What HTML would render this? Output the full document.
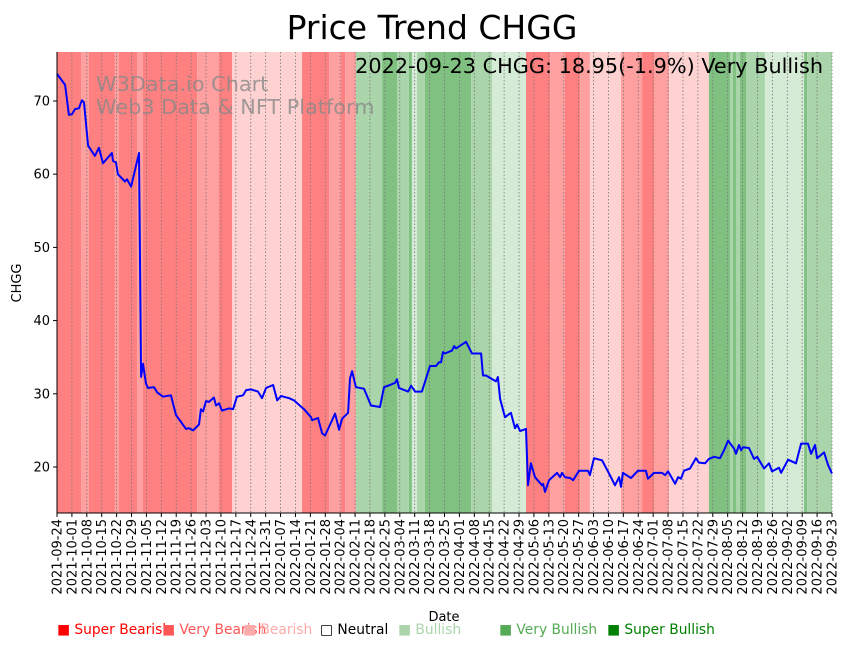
<!DOCTYPE html>
<html><head><meta charset="utf-8"><style>
body{margin:0;background:#fff;}
svg{display:block;font-family:"DejaVu Sans","Liberation Sans",sans-serif;}
</style></head><body>
<svg id="chart" width="848" height="646" viewBox="0 0 848 646" xmlns="http://www.w3.org/2000/svg">
<text x="432" y="39" font-size="33" text-anchor="middle">Price Trend CHGG</text>
<g id="bands"></g>
<g id="grid"></g>
<text x="96" y="91" font-size="20.8" fill="#888" fill-opacity="0.8">W3Data.io Chart</text>
<text x="96" y="114" font-size="20.8" fill="#888" fill-opacity="0.8">Web3 Data &amp; NFT Platform</text>
<path id="line" fill="none" stroke="#0000ff" stroke-width="2" stroke-linejoin="round"></path>
<text x="823" y="73" font-size="20.8" text-anchor="end">2022-09-23 CHGG: 18.95(-1.9%) Very Bullish</text>
<line x1="57" y1="52" x2="57" y2="513" stroke="#000"/>
<line x1="57" y1="513" x2="832" y2="513" stroke="#000"/>
<g id="yticks"></g>
<g id="xticks"></g>
<text x="444" y="621" font-size="13" text-anchor="middle">Date</text>
<text transform="translate(21,283) rotate(-90)" font-size="13" text-anchor="middle">CHGG</text>
<g id="legend" font-size="13.8"></g>
</svg>
<script>
const days=[0,3.8,5.6,7,8.5,10.3,11.7,12.7,14.6,17.8,19.7,21.6,25.8,26.3,27.7,28.6,31.9,32.9,34.8,38.5,39.5,40.4,41.8,42.7,45.6,47,49.8,53.5,55.9,60.6,62,63.9,66.7,67.6,68.6,70,71.4,73.7,74.7,76.1,77.5,80.8,82.7,84.5,87.4,88.8,91.1,94.4,96.3,98.2,101.5,103.4,105.2,109,111.3,116,119.3,119.8,122.6,124.5,125.9,130.6,132.5,133.9,136.7,137.6,138.6,140.4,144.2,147.5,151.7,153.6,156.4,158.8,159.7,160.6,164.9,166.3,168.2,171.4,175.2,178,179.4,180.4,181.3,182.2,185.5,186.5,187.4,192.1,194.9,199.2,200.1,201.5,206.2,207.1,208.1,210.4,213.2,215.1,216.1,217.5,220.3,221.2,222.6,224.5,227.8,228.3,229.2,231.1,234.9,236.3,237.2,238.6,241,242.4,245.2,249.4,250.3,252.2,256,259.3,262.1,264,264.9,265.8,269.6,272.9,276.6,277.6,280.4,284.2,285.6,287,290.3,291.7,293.1,294.5,297.3,300.1,301.5,304.4,306.2,308.6,311.4,313.3,315.2,318,318.9,320.3,321.3,322.2,325,327.4,328.8,332.1,334.4,335.8,339.1,340.1,343.4,347.1,349.5,352.7,354.2,356,357,360.3,362.1,364];
const prices=[73.7,72.2,68.1,68.2,68.9,69.0,70.1,69.8,63.9,62.5,63.6,61.5,62.9,61.8,61.6,60.0,59.0,59.3,58.3,62.9,32.3,34.1,31.4,30.8,30.9,30.2,29.6,29.8,27.1,25.2,25.3,25.0,25.8,27.9,27.6,29.0,28.9,29.5,28.4,28.7,27.7,28.0,27.9,29.6,29.8,30.5,30.6,30.3,29.4,30.8,31.2,29.1,29.7,29.4,29.1,27.9,26.8,26.4,26.7,24.6,24.3,27.3,25.1,26.6,27.4,32.1,33.1,30.9,30.7,28.4,28.2,30.9,31.2,31.5,32.0,30.8,30.3,31.1,30.3,30.3,33.8,33.8,34.3,34.3,35.7,35.5,35.9,36.5,36.2,37.1,35.5,35.5,32.5,32.5,31.7,32.3,29.3,26.8,27.4,25.3,25.8,24.9,25.2,17.5,20.5,18.6,17.5,17.7,16.6,18.2,19.2,18.6,19.2,18.6,18.5,18.2,19.5,19.5,18.9,21.2,20.9,19.1,17.5,18.6,17.3,19.2,18.5,19.5,19.5,18.4,19.2,19.2,18.9,19.4,17.7,18.6,18.4,19.5,19.8,21.2,20.6,20.5,21.1,21.4,21.2,22.3,23.6,22.5,21.8,23.0,22.3,22.7,22.6,21.1,21.4,19.8,20.5,19.4,19.9,19.2,21.0,20.5,23.2,23.2,21.8,23.0,21.2,22.0,20.3,19.1];
const bandStart=[0,11.3,15,27.2,29.1,37.6,40.4,65.8,76.1,82.2,115.1,127.8,133.4,135.3,140.4,152.7,159.7,165.3,166.7,169.1,172.8,194.5,204.3,220.3,231.6,238.6,245.7,250.3,264.9,274.8,280.4,287.5,306.2,316.1,317.5,318.9,320.8,323.6,332.5,350.9,352.3];
const bandEnd=[11.3,15,27.2,29.1,37.6,40.4,65.8,76.1,82.2,115.1,127.8,133.4,135.3,140.4,152.7,159.7,165.3,166.7,169.1,172.8,194.5,204.3,220.3,231.6,238.6,245.7,250.3,264.9,274.8,280.4,287.5,306.2,316.1,317.5,318.9,320.8,323.6,332.5,350.9,352.3,364];
const bandLevel=[0,1,0,1,0,1,0,1,0,2,0,1,0,1,5,6,5,6,4,5,6,5,4,0,1,0,1,2,1,0,1,2,6,5,6,5,6,5,4,6,5];
const yTicks=[20,30,40,50,60,70];
const legendLabels=["Super Bearish","Very Bearish","Bearish","Neutral","Bullish","Very Bullish","Super Bullish"];
const startDate=Date.UTC(2021,8,24);
const NS="http://www.w3.org/2000/svg";
const X0=57,X1=832,Y0=52,Y1=513;
const x=d=>X0+d*(X1-X0)/364;
const y=v=>613.4-v*7.32;
const bandColors={0:"#ff8080",1:"#ffa0a0",2:"#ffd2d2",4:"#d6ebd6",5:"#aad5aa",6:"#80c080"};
function mk(tag,attrs,parent){const e=document.createElementNS(NS,tag);for(const k in attrs)e.setAttribute(k,attrs[k]);parent.appendChild(e);return e;}
const bg=document.getElementById('bands');
bandStart.forEach((s,i)=>{
  const r=mk('rect',{x:x(s),y:Y0,width:x(bandEnd[i])-x(s),height:Y1-Y0,fill:bandColors[bandLevel[i]]},bg);
  
  
});
const grid=document.getElementById('grid'),xt=document.getElementById('xticks');
for(let d=0;d<=364;d+=7){
  const gx=x(d);
  const g=mk('line',{x1:gx,y1:Y0,x2:gx,y2:Y1,stroke:"#777","stroke-width":0.8,"stroke-dasharray":"1.5,2"},grid);
  
  
  mk('line',{x1:gx,y1:Y1,x2:gx,y2:Y1+4,stroke:"#000"},xt);
  const dt=new Date(startDate+d*86400000);
  const lbl=dt.toISOString().slice(0,10);
  const t=mk('text',{transform:`translate(${gx+4.5},${Y1+6}) rotate(-90)`,"font-size":13,"text-anchor":"end"},xt);
  t.textContent=lbl;
  
  
}
const yt=document.getElementById('yticks');
yTicks.forEach(v=>{
  mk('line',{x1:X0-4,y1:y(v),x2:X0,y2:y(v),stroke:"#000"},yt);
  const t=mk('text',{x:X0-7,y:y(v)+4.5,"font-size":13,"text-anchor":"end"},yt);
  t.textContent=v;
  
  
});
document.getElementById('line').setAttribute('d',days.map((d,i)=>(i?'L':'M')+x(d).toFixed(1)+','+y(prices[i]).toFixed(1)).join(''));
const legX=[57,162,243,320,398,499,607];
const legCol=["#ff0000","#ff5555","#ffaaaa","#000000","#aad5aa","#55aa55","#008000"];
const lg=document.getElementById('legend');
legendLabels.forEach((l,i)=>{
  const t=mk('text',{x:legX[i],y:634,fill:legCol[i]},lg);
  t.textContent=(i===3?"□ ":"■ ")+l;
  
  
});
</script>
</body></html>
